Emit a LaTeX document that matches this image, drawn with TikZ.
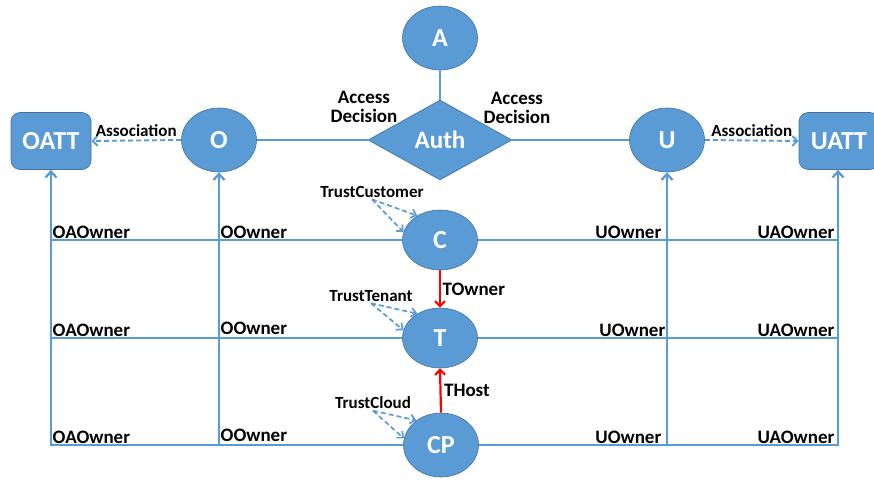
\documentclass[tikz,border=0pt]{standalone}
\usepackage{fontspec}
\setmainfont{Carlito}
\usetikzlibrary{shapes.geometric,arrows.meta}
\definecolor{nodeblue}{HTML}{5B9BD5}
\definecolor{edgeblue}{HTML}{41719C}
\definecolor{lineblue}{HTML}{5B9BD5}
\definecolor{arrred}{HTML}{FF0000}
\begin{document}
\begin{tikzpicture}[x=1pt,y=-1pt,
  ent/.style={ellipse, fill=nodeblue, draw=edgeblue, line width=0.6pt,
    minimum width=75pt, minimum height=64pt, inner sep=0pt, text=white,
    font=\fontsize{26}{26}\selectfont\bfseries},
  attrbox/.style={rectangle, rounded corners=9pt, fill=nodeblue, draw=edgeblue,
    line width=0.6pt, minimum width=80pt, minimum height=57pt, inner sep=0pt,
    text=white, font=\fontsize{26}{26}\selectfont\bfseries},
  authbox/.style={diamond, fill=nodeblue, draw=edgeblue, line width=0.6pt,
    minimum width=144pt, minimum height=80pt, inner sep=0pt, text=white,
    font=\fontsize{25}{25}\selectfont\bfseries},
  conn/.style={draw=lineblue, line width=2pt},
  own/.style={draw=lineblue, line width=2.3pt},
  ownarr/.style={own, -{Straight Barb[length=6pt,width=11pt,line width=2.3pt]}},
  assoc/.style={draw=lineblue, line width=1.9pt, dash pattern=on 5pt off 3pt,
    -{Straight Barb[length=5pt,width=10pt,line width=1.9pt]}},
  trustarr/.style={draw=lineblue, line width=1.7pt, dash pattern=on 5pt off 3pt,
    -{Straight Barb[length=5pt,width=9pt,line width=1.7pt]}},
  redarr/.style={draw=arrred, line width=2.2pt,
    -{Straight Barb[length=5pt,width=10pt,line width=2.2pt]}},
  lbl/.style={font=\fontsize{19}{19}\selectfont\bfseries, inner sep=1.5pt},
  slbl/.style={font=\fontsize{17}{17}\selectfont\bfseries, inner sep=1.5pt},
  tlbl/.style={font=\fontsize{17}{17}\selectfont\bfseries, inner sep=1.5pt}
]
\useasboundingbox (0,0) rectangle (874,479);

% nodes
\node[ent] (A) at (440,38) {A};
\node[authbox] (Auth) at (440,140) {Auth};
\node[ent] (O) at (219,140) {O};
\node[ent] (U) at (667,140) {U};
\node[attrbox] (OATT) at (51,141) {OATT};
\node[attrbox] (UATT) at (839,141) {UATT};
\node[ent, minimum height=60pt] (C) at (440,240) {C};
\node[ent, minimum height=60pt] (T) at (440,338) {T};
\node[ent] (CP) at (441,445) {CP};

% top connectors
\draw[conn] (A.south) -- (Auth.north);
\draw[conn] (O.east) -- (Auth.west);
\draw[conn] (Auth.east) -- (U.west);
\node[lbl, align=center] (adl) at (364,107) {Access\\Decision};
\node[lbl, align=center] (adr) at (517,108) {Access\\Decision};

% associations
\draw[assoc] (O.west) -- (OATT.east) node[slbl, midway, above=1pt] {Association};
\draw[assoc] (U.east) -- (UATT.west) node[slbl, midway, above=1pt] {Association};

% horizontal ownership lines
\coordinate (oaC) at (OATT |- C);
\coordinate (oaT) at (OATT |- T);
\coordinate (oaP) at (OATT |- CP);
\coordinate (oC) at (O |- C);
\coordinate (oT) at (O |- T);
\coordinate (oP) at (O |- CP);
\coordinate (uC) at (U |- C);
\coordinate (uT) at (U |- T);
\coordinate (uP) at (U |- CP);
\coordinate (uaC) at ([xshift=-1pt]UATT |- C);
\coordinate (uaT) at ([xshift=-1pt]UATT |- T);
\coordinate (uaP) at ([xshift=-1pt]UATT |- CP);

\draw[own] (C.west) -- (oaC);
\draw[own] (T.west) -- (oaT);
\draw[own] (CP.west) -- (oaP);
\draw[own] (C.east) -- (uaC);
\draw[own] (T.east) -- (uaT);
\draw[own] (CP.east) -- (uaP);

% vertical ownership lines
\draw[ownarr] ([yshift=-1.1pt]oaP) -- (OATT.south);
\draw[ownarr] ([yshift=-1.1pt]oP) -- (O.south);
\draw[ownarr] ([yshift=-1.1pt]uP) -- (U.south);
\draw[ownarr] ([yshift=-1.1pt]uaP) -- ([xshift=-1pt]UATT.south);

% ownership labels
\node[lbl, anchor=south west] at (oaC) {OAOwner};
\node[lbl, anchor=south west] at (oaT) {OAOwner};
\node[lbl, anchor=south west] at (oaP) {OAOwner};
\node[lbl, anchor=south west] at (oC) {OOwner};
\node[lbl, anchor=south west] at ([yshift=2pt]oT) {OOwner};
\node[lbl, anchor=south west] at ([yshift=2pt]oP) {OOwner};
\node[lbl, anchor=south east] at ([xshift=-4pt]uC) {UOwner};
\node[lbl, anchor=south east] at (uT) {UOwner};
\node[lbl, anchor=south east] at ([xshift=-4pt]uP) {UOwner};
\node[lbl, anchor=south east] at ([xshift=-2pt]uaC) {UAOwner};
\node[lbl, anchor=south east] at ([xshift=-2pt]uaT) {UAOwner};
\node[lbl, anchor=south east] at ([xshift=-2pt]uaP) {UAOwner};

% red arrows
\draw[redarr] (C.south) -- (T.north) node[lbl, midway, right=0pt] {TOwner};
\draw[redarr] (CP.north) -- (T.south) node[lbl, midway, right=1pt] {THost};

% trust self relations
\node[tlbl] (tcus) at (372,192) {TrustCustomer};
\node[tlbl] (tten) at (371,296) {TrustTenant};
\node[tlbl] (tclo) at (373,403) {TrustCloud};
\draw[trustarr] (tcus.south) -- (C.133);
\draw[trustarr] (tcus.south) -- (C.168);
\draw[trustarr] (tten.south) -- (T.133);
\draw[trustarr] (tten.south) -- (T.168);
\draw[trustarr] (tclo.south) -- (CP.135);
\draw[trustarr] (tclo.south) -- (CP.170);
\end{tikzpicture}
\end{document}
